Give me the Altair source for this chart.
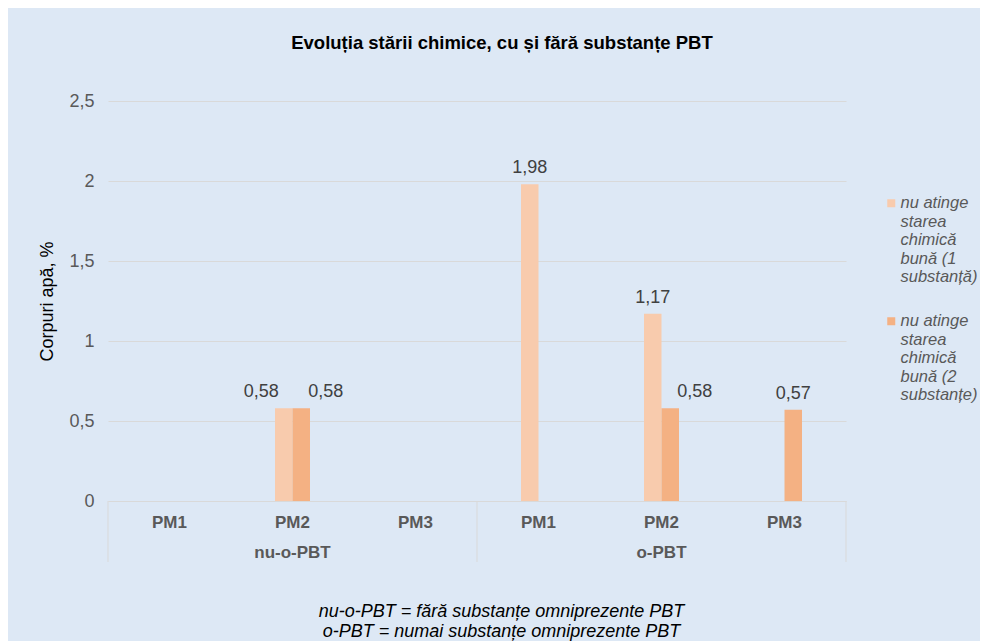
import textwrap
import altair as alt
import pandas as pd

# ---- data ----
groups = ["nu-o-PBT", "nu-o-PBT", "nu-o-PBT", "o-PBT", "o-PBT", "o-PBT"]
pms = ["PM1", "PM2", "PM3", "PM1", "PM2", "PM3"]
group_names = ["nu-o-PBT", "o-PBT"]
series_names = [
    "nu atinge starea chimică bună (1 substanță)",
    "nu atinge starea chimică bună (2 substanțe)",
]
s1 = [0, 0.58, 0, 1.98, 1.17, 0]
s2 = [0, 0.58, 0, 0, 0.58, 0.57]
series_colors = ["#f8cbad", "#f4b183"]
y_ticks = [0, 0.5, 1, 1.5, 2, 2.5]
chart_title = "Evoluția stării chimice, cu și fără substanțe PBT"
y_title = "Corpuri apă, %"
footnote = [
    "nu-o-PBT = fără substanțe omniprezente PBT",
    "o-PBT = numai substanțe omniprezente PBT",
]

FONT = "Liberation Sans"
GRAY = "#595959"
LINE = "#d9d9d9"
W, H = 738, 400
BAND = W / 6
BARW = 17.5

cats = [f"{g}|{p}" for g, p in zip(groups, pms)]
rows = []
for si, (name, vals) in enumerate(zip(series_names, [s1, s2])):
    for c, v in zip(cats, vals):
        rows.append({"cat": c, "series": name, "si": si, "value": v})
df = pd.DataFrame(rows)

group_df = pd.DataFrame({"group": group_names,
                         "cat": [f"{g}|PM2" for g in group_names]})
start_df = pd.DataFrame({"cat": [f"{g}|PM1" for g in group_names]})
end_df = pd.DataFrame({"cat": [cats[-1]]})

# legend label wrapping (multi-line)
wrapped = {n: textwrap.wrap(n, 10) for n in series_names}
expr = "null"
for n, lines in wrapped.items():
    arr = "[" + ",".join("'" + l + "'" for l in lines) + "]"
    expr = f"datum.label == '{n}' ? {arr} : ({expr})"
legend_expr = expr

x_scale = alt.Scale(domain=cats, paddingInner=0, paddingOuter=0)
y_scale = alt.Scale(domain=[0, 2.5], nice=False)

x_axis = alt.Axis(
    labelExpr="split(datum.label, '|')[1]",
    labelFont=FONT, labelFontSize=17, labelFontWeight="bold", labelColor=GRAY,
    labelPadding=13, labelAngle=0,
    ticks=False, domain=True, domainColor=LINE, grid=False,
    title=footnote, titleFont=FONT, titleFontSize=18, titleFontStyle="italic",
    titleFontWeight="normal", titleColor="#000000", titleLineHeight=20,
    titleX=393, titleY=101, titleBaseline="top", titleAnchor="middle",
    titleAlign="center",
)

y_axis = alt.Axis(
    values=y_ticks,
    labelExpr="replace(format(datum.value, '~g'), '.', ',')",
    labelFont=FONT, labelFontSize=18, labelColor=GRAY, labelPadding=14,
    ticks=False, domain=False, grid=True, gridColor=LINE,
    title=y_title, titleFont=FONT, titleFontSize=18, titleFontWeight="normal",
    titleColor="#000000", titlePadding=12,
)

X = alt.X("cat:N", scale=x_scale, axis=x_axis, sort=cats)
Y = alt.Y("value:Q", scale=y_scale, axis=y_axis)

xoff = alt.XOffset("series:N", sort=series_names,
                   scale=alt.Scale(domain=series_names,
                                   range=[BAND / 2 - BARW, BAND / 2 + BARW],
                                   paddingInner=0, paddingOuter=0))

bars = alt.Chart(df).transform_filter("datum.value > 0").mark_bar().encode(
    x=X,
    xOffset=xoff,
    y=Y,
    color=alt.Color(
        "series:N", sort=series_names,
        scale=alt.Scale(domain=series_names, range=series_colors),
        legend=alt.Legend(
            title=None, orient="none", legendX=775, legendY=94,
            labelExpr=legend_expr, labelFont=FONT, labelFontSize=16.5,
            labelFontStyle="italic", labelColor=GRAY, labelLimit=300,
            labelBaseline="middle", labelOffset=1,
            symbolType="square", symbolSize=64, symbolStrokeWidth=0,
            rowPadding=27, padding=0,
        ),
    ),
)

# value labels: spread apart when two neighbouring labels would collide
label_base = (
    alt.Chart(df)
    .transform_filter("datum.value > 0")
    .transform_joinaggregate(n="count()", vmax="max(value)", vmin="min(value)",
                             groupby=["cat"])
    .transform_calculate(
        txt="replace(format(datum.value, '.2f'), '.', ',')",
        al="datum.n == 2 ? (datum.si == 0 ? (datum.vmax - datum.vmin < 0.1 ? 'right' : 'center') : 'left') : 'center'",
    )
)


def label_layer(al, dx):
    return label_base.transform_filter(f"datum.al == '{al}'").mark_text(
        align=al, baseline="alphabetic", dx=dx, dy=-11,
        font=FONT, fontSize=18, color="#404040",
    ).encode(x=X, xOffset=xoff, y=Y, text="txt:N")


labels_c = label_layer("center", 0)
labels_r = label_layer("right", -5)
labels_l = label_layer("left", 7)

group_labels = alt.Chart(group_df).mark_text(
    baseline="middle", font=FONT, fontSize=17, fontWeight="bold", color=GRAY
).encode(
    x=X,
    y=alt.value(H + 52),
    text="group:N",
)

rules_start = alt.Chart(start_df).mark_rule(color=LINE, strokeWidth=1).encode(
    x=alt.X("cat:N", scale=x_scale, axis=x_axis, bandPosition=0),
    y=alt.value(H), y2=alt.value(H + 61),
)
rules_end = alt.Chart(end_df).mark_rule(color=LINE, strokeWidth=1).encode(
    x=alt.X("cat:N", scale=x_scale, axis=x_axis, bandPosition=1),
    y=alt.value(H), y2=alt.value(H + 61),
)

chart = alt.layer(
    bars, labels_c, labels_r, labels_l, group_labels, rules_start, rules_end
).properties(
    width=W, height=H,
    autosize=alt.AutoSizeParams(type="none"),
    padding={"left": 100, "top": 93, "right": 134, "bottom": 140},
    background="#dde8f5",
    title=alt.TitleParams(
        chart_title, font=FONT, fontSize=18.5, fontWeight="bold", color="#000000",
        anchor="middle", dx=25, offset=40,
    ),
).configure_view(stroke=None)

chart.save("out.html", embed_options={"renderer": "svg", "actions": False})
